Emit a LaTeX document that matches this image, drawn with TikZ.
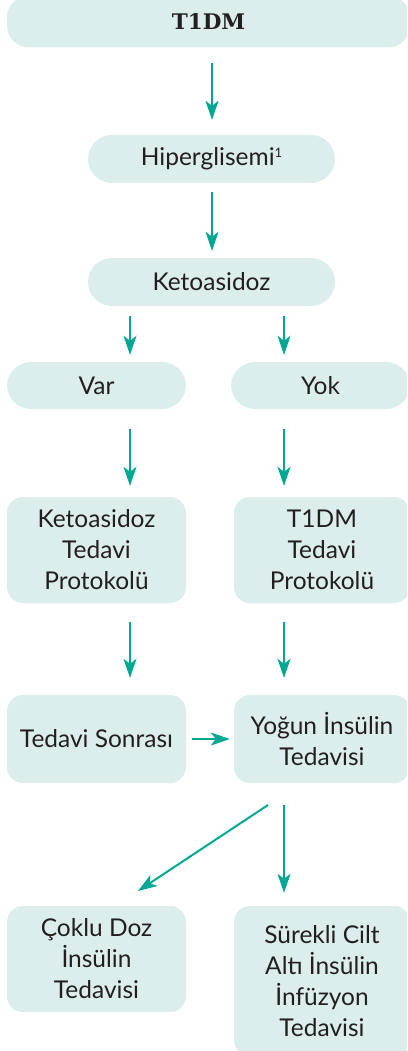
\documentclass[tikz,border=0pt]{standalone}
\usepackage{fontspec}
\setsansfont{Lato}
\newfontfamily\titlefont{DejaVu Serif}
\usetikzlibrary{arrows.meta,calc}
\definecolor{boxfill}{HTML}{DCEEEB}
\definecolor{arrteal}{HTML}{00A893}
\definecolor{txt}{HTML}{231F20}
\tikzset{
  box/.style={fill=boxfill, draw=none, rounded corners=#1, inner sep=0pt, align=center,
    text=txt, font=\sffamily\fontsize{24.5}{31}\selectfont},
  box/.default=20pt,
  arr/.style={draw=arrteal, line width=2pt,
    -{Stealth[length=19pt,width=13pt,inset=5pt]}},
}
\begin{document}
\begin{tikzpicture}[x=1pt,y=-1pt]
\useasboundingbox (0,0) rectangle (407,1051);
\clip (0,0) rectangle (407,1051);
% nodes
\node[box=22pt, minimum width=403pt, minimum height=52pt, font=\titlefont\bfseries\fontsize{21.5}{26}\selectfont] (t1dm) at (208.5,21.5) {T1DM};
\node[box=24pt, minimum width=247pt, minimum height=48pt] (hip) at (211.5,159) {Hiperglisemi\raisebox{8pt}{\fontsize{13}{13}\selectfont 1}};
\node[box=24pt, minimum width=247pt, minimum height=48pt] (keto) at (211.5,282) {Ketoasidoz};
\node[box=24pt, minimum width=179pt, minimum height=47pt] (var) at (96.5,385.5) {Var};
\node[box=24pt, minimum width=179pt, minimum height=47pt] (yok) at (320.5,385.5) {Yok};
\node[box=16pt, minimum width=179pt, minimum height=106pt] (ktp) at (96.5,550) {Ketoasidoz\\Tedavi\\Protokolü};
\node[box=16pt, minimum width=176pt, minimum height=106pt] (ttp) at (322,550) {T1DM\\Tedavi\\Protokolü};
\node[box=16pt, minimum width=179pt, minimum height=88pt] (ts) at (96.5,739) {Tedavi Sonrası};
\node[box=16pt, minimum width=176pt, minimum height=88pt] (yit) at (322,739) {Yoğun İnsülin\\Tedavisi};
\node[box=16pt, minimum width=179pt, minimum height=106pt] (cok) at (96.5,959) {Çoklu Doz\\İnsülin\\Tedavisi};
\node[box=16pt, minimum width=176pt, minimum height=150pt] (sur) at (322,981) {Sürekli Cilt\\Altı İnsülin\\İnfüzyon\\Tedavisi};
% column coordinates
\coordinate (mid) at (212,0);
\coordinate (colL) at (130,0);
\coordinate (colR) at (284,0);
\coordinate (dstart) at (268,805);
\coordinate (dend) at (138,891);
% connectors
\draw[arr, shorten <=15pt, shorten >=15pt] (t1dm.south -| mid) -- (hip.north -| mid);
\draw[arr, shorten <=9pt, shorten >=7pt] (hip.south -| mid) -- (keto.north -| mid);
\draw[arr, shorten <=10pt, shorten >=7pt] (keto.south -| colL) -- (var.north -| colL);
\draw[arr, shorten <=10pt, shorten >=7pt] (keto.south -| colR) -- (yok.north -| colR);
\draw[arr, shorten <=20pt, shorten >=11pt] (var.south -| colL) -- (ktp.north -| colL);
\draw[arr, shorten <=20pt, shorten >=11pt] (yok.south -| colR) -- (ttp.north -| colR);
\draw[arr, shorten <=19pt, shorten >=17pt] (ktp.south -| colL) -- (ts.north -| colL);
\draw[arr, shorten <=19pt, shorten >=17pt] (ttp.south -| colR) -- (yit.north -| colR);
\draw[arr, shorten <=6pt, shorten >=4pt] (ts.east) -- (yit.west |- ts.east);
\draw[arr, shorten <=22pt, shorten >=13pt] (yit.south -| colR) -- (sur.north -| colR);
\draw[arr] (dstart) -- (dend);
\end{tikzpicture}
\end{document}
